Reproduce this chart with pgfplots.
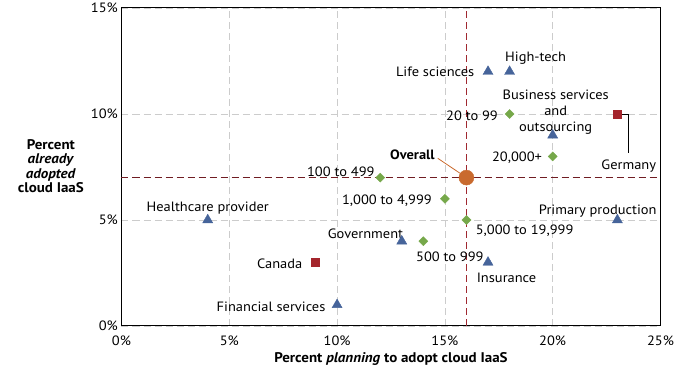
\documentclass[border=0pt]{standalone}
\usepackage{pgfplots}
\pgfplotsset{compat=1.18}
\usepackage{fontspec}
\setmainfont[FakeStretch=1.07]{PT Sans}
\definecolor{tri}{HTML}{46649A}
\definecolor{dia}{HTML}{76A84A}
\definecolor{sq}{HTML}{A4252C}
\definecolor{ovc}{HTML}{C96A2E}
\definecolor{refl}{HTML}{A02830}
\begin{document}
\fontsize{13.5}{16}\selectfont
\begin{tikzpicture}
\path[use as bounding box] (0,0) rectangle (688pt,369pt);
\begin{axis}[
  at={(121.5pt,43pt)}, anchor=south west,
  scale only axis, width=539pt, height=318pt,
  xmin=0, xmax=25, ymin=0, ymax=15,
  xtick={0,5,10,15,20,25}, ytick={0,5,10,15},
  xticklabels={0\%,5\%,10\%,15\%,20\%,25\%},
  yticklabels={0\%,5\%,10\%,15\%},
  major tick length=0pt,
  grid=major,
  major grid style={gray!40, dash pattern=on 7pt off 4pt, line width=0.8pt},
  axis line style={black, line width=1pt},
  tick label style={font=\fontsize{13.5}{16}\selectfont},
  xticklabel style={anchor=base, yshift=-20pt},
  yticklabel style={xshift=1pt},
  /pgf/number format/assume math mode=true,
  xlabel={\textbf{Percent \textit{planning} to adopt cloud IaaS}},
  xlabel style={at={(axis description cs:0.5,0)}, anchor=base, yshift=-37pt, font=\fontsize{14}{16}\selectfont},
  ylabel={\textbf{Percent}\\\textbf{\textit{already}}\\\textbf{\textit{adopted}}\\\textbf{cloud IaaS}},
  ylabel style={rotate=-90, at={(axis description cs:-0.131,0.503)}, anchor=center, align=center, font=\fontsize{14}{14.2}\selectfont},
  clip=false,
  every node/.append style={font=\fontsize{13.5}{14.5}\selectfont, inner sep=0pt},
]
% reference lines
\addplot[refl, line width=1pt, dash pattern=on 7pt off 4pt] coordinates {(16,0) (16,15)};
\addplot[refl!70!black, line width=1pt, dash pattern=on 7pt off 4pt] coordinates {(0,7) (25,7)};
% leader lines
\draw[black, line width=0.8pt] (axis cs:23,10) -- ++(11.4pt,0) -- ++(0,-38.7pt);
\draw[ovc, line width=0.8pt] (axis cs:16,7) -- ++(-28.7pt,19.3pt);
% industries (triangles)
\addplot[only marks, mark=triangle*, mark size=5.8pt, mark options={fill=tri, draw=tri}] coordinates {
 (17,12) (18,12) (20,9) (23,5) (4,5) (13,4) (17,3) (10,1)};
% company sizes (diamonds)
\addplot[only marks, mark=square*, mark size=3.2pt, mark options={rotate=45, fill=dia, draw=dia}] coordinates {
 (18,10) (20,8) (12,7) (15,6) (16,5) (14,4)};
% countries (squares)
\addplot[only marks, mark=square*, mark size=4pt, mark options={fill=sq, draw=sq}] coordinates {
 (23,10) (9,3)};
% overall
\addplot[only marks, mark=*, mark size=7.5pt, mark options={fill=ovc, draw=ovc}] coordinates {(16,7)};
% labels
\node[anchor=east] at ([xshift=-9pt]axis cs:17,12) {Life sciences};
\node at ([xshift=26pt, yshift=13.3pt]axis cs:18,12) {High-tech};
\node[align=center] at ([xshift=3pt, yshift=23pt]axis cs:20,9) {Business services\\and\\outsourcing};
\node[anchor=east] at ([xshift=-7pt, yshift=-2pt]axis cs:18,10) {20 to 99};
\node[anchor=east] at ([xshift=-6pt, yshift=-1pt]axis cs:20,8) {20,000+};
\node at ([xshift=11.4pt, yshift=-51.7pt]axis cs:23,10) {Germany};
\node at ([xshift=-54pt, yshift=22.6pt]axis cs:16,7) {\textbf{Overall}};
\node at ([xshift=-39.4pt, yshift=6pt]axis cs:12,7) {100 to 499};
\node[anchor=east] at ([xshift=-8.4pt, yshift=-2pt]axis cs:15,6) {1,000 to 4,999};
\node[anchor=west] at ([xshift=4.7pt, yshift=-10.7pt]axis cs:16,5) {5,000 to 19,999};
\node at ([xshift=-19.6pt, yshift=9.3pt]axis cs:23,5) {Primary production};
\node at ([yshift=11.7pt]axis cs:4,5) {Healthcare provider};
\node at ([xshift=-36.3pt, yshift=7.9pt]axis cs:13,4) {Government};
\node at ([xshift=26.5pt, yshift=-15.5pt]axis cs:14,4) {500 to 999};
\node at ([xshift=18.5pt, yshift=-15pt]axis cs:17,3) {Insurance};
\node[anchor=east] at ([xshift=-8.5pt, yshift=-1.6pt]axis cs:9,3) {Canada};
\node[anchor=east] at ([xshift=-7pt, yshift=-2.5pt]axis cs:10,1) {Financial services};
\end{axis}
\end{tikzpicture}
\end{document}
